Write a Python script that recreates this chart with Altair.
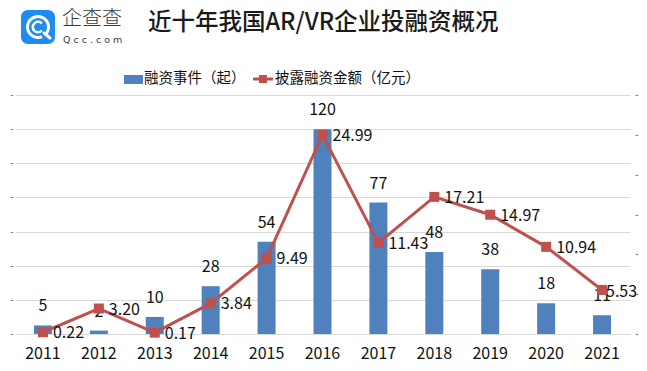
import altair as alt
import pandas as pd

years = ["2011", "2012", "2013", "2014", "2015", "2016", "2017", "2018", "2019", "2020", "2021"]
deals = [5, 2, 10, 28, 54, 120, 77, 48, 38, 18, 11]
amounts = [0.22, 3.20, 0.17, 3.84, 9.49, 24.99, 11.43, 17.21, 14.97, 10.94, 5.53]

title_text = "近十年我国AR/VR企业投融资概况"
bar_name = "融资事件（起）"
line_name = "披露融资金额（亿元）"
left_ticks = [0, 20, 40, 60, 80, 100, 120, 140]
right_ticks = [0, 5, 10, 15, 20, 25, 30]

BLUE = "#4F81BD"
RED = "#C0504D"
FONT = "Noto Sans CJK SC"

df = pd.DataFrame({"year": years, "deals": deals, "amount": amounts})
last_year = years[-1]

W, H = 615, 239

x_enc = alt.X("year:N", sort=years, title=None,
              scale=alt.Scale(paddingInner=0, paddingOuter=0),
              axis=alt.Axis(domain=False, ticks=False, labelAngle=0, labelFont=FONT,
                            labelFontSize=16, labelColor="#111", labelPadding=11))

y_left = alt.Y("deals:Q", title=None,
               scale=alt.Scale(domain=[0, 140], nice=False),
               axis=alt.Axis(values=left_ticks, labels=False, domain=False, tickSize=3,
                             offset=2, tickColor="#888", grid=True, gridColor="#d9d9d9",
                             gridWidth=1))

bars = alt.Chart(df).mark_bar(size=18, color=BLUE).encode(x=x_enc, y=y_left)

bar_labels = alt.Chart(df).mark_text(font=FONT, fontSize=16, color="#111",
                                     baseline="middle", dy=-19).encode(
    x=x_enc, y=y_left, text=alt.Text("deals:Q"))

left_layer = alt.layer(bars, bar_labels)

y_right = alt.Y("amount:Q", title=None,
                scale=alt.Scale(domain=[0, 30], nice=False),
                axis=alt.Axis(orient="right", values=right_ticks, labels=False, domain=False,
                              tickSize=3, offset=5, tickColor="#888", grid=False))

line = alt.Chart(df).mark_line(color=RED, strokeWidth=3).encode(x=x_enc, y=y_right)
pts = alt.Chart(df).mark_square(size=100, color=RED, opacity=1).encode(x=x_enc, y=y_right)
line_labels = alt.Chart(df).transform_filter(
    alt.datum.year != last_year
).mark_text(font=FONT, fontSize=16, color="#111", align="left",
            baseline="middle", dx=10, dy=1).encode(
    x=x_enc, y=y_right, text=alt.Text("amount:Q", format=".2f"))
last_label = alt.Chart(df).transform_filter(
    alt.datum.year == last_year
).mark_text(font=FONT, fontSize=16, color="#111", align="left",
            baseline="middle", dx=4, dy=2).encode(
    x=x_enc, y=y_right, text=alt.Text("amount:Q", format=".2f"))

right_layer = alt.layer(line, pts, line_labels, last_label)

# header decorations (title, logo, legend) in pixel coordinates
deco = pd.DataFrame({"k": [0]})
base = alt.Chart(deco)

title = base.mark_text(text=title_text, font=FONT, fontSize=23.5, fontWeight=500,
                       color="#1a1a1a", align="left", baseline="middle").encode(
    x=alt.value(133), y=alt.value(-72))

logo_box = base.mark_rect(color="#1E8CF0", cornerRadius=7).encode(
    x=alt.value(6), x2=alt.value(40), y=alt.value(-85), y2=alt.value(-51))
ring = base.mark_arc(color="white", radius=12, radius2=9, theta=2.75, theta2=8.5).encode(
    x=alt.value(23), y=alt.value(-68))
tail = base.mark_rule(color="white", strokeWidth=3, strokeCap="round").encode(
    x=alt.value(29), x2=alt.value(35), y=alt.value(-62), y2=alt.value(-57))
inner = base.mark_arc(color="white", radius=6.5, radius2=4, theta=2.3, theta2=7.1).encode(
    x=alt.value(23), y=alt.value(-68))
logo_txt = base.mark_text(text="企查查", font=FONT, fontSize=20, fontWeight=300,
                          color="#3a3a3a", align="left", baseline="middle").encode(
    x=alt.value(47), y=alt.value(-76))
logo_sub = base.mark_text(text="Q c c . c o m", font="DejaVu Sans", fontSize=9.5,
                          color="#3a3a3a", align="left", baseline="middle").encode(
    x=alt.value(48), y=alt.value(-55))

leg_rect = base.mark_rect(color=BLUE).encode(
    x=alt.value(109), x2=alt.value(128), y=alt.value(-20), y2=alt.value(-11))
leg_txt1 = base.mark_text(text=bar_name, font=FONT, fontSize=14.5, color="#111",
                          align="left", baseline="middle").encode(
    x=alt.value(129), y=alt.value(-16.5))
leg_line = base.mark_rule(color=RED, strokeWidth=3).encode(
    x=alt.value(238), x2=alt.value(258), y=alt.value(-16))
leg_sq = base.mark_square(color=RED, size=64, opacity=1).encode(
    x=alt.value(248), y=alt.value(-16))
leg_txt2 = base.mark_text(text=line_name, font=FONT, fontSize=14.5, color="#111",
                          align="left", baseline="middle").encode(
    x=alt.value(260), y=alt.value(-16.5))

decos = alt.layer(title, logo_box, ring, tail, inner, logo_txt, logo_sub,
                  leg_rect, leg_txt1, leg_line, leg_sq, leg_txt2)

chart = alt.layer(left_layer, right_layer, decos).resolve_scale(y="independent").properties(
    width=W, height=H,
    autosize=alt.AutoSizeParams(type="none"),
    padding={"left": 7, "top": 87, "right": 9, "bottom": 29},
    background="white",
).configure_view(stroke=None)

chart.save("out.html", embed_options={"renderer": "svg", "actions": False})
